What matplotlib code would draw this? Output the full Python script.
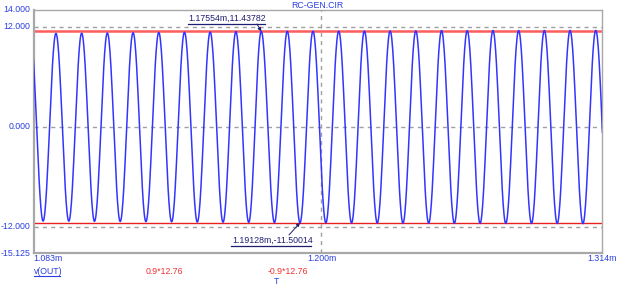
import numpy as np
import matplotlib
matplotlib.use('Agg')
import matplotlib.pyplot as plt
from matplotlib.lines import Line2D

plt.rcParams['font.family'] = ['Liberation Sans', 'DejaVu Sans']

#Waveform v(OUT): times (ms) and values of the peaks and troughs
peak_t = [1.08168, 1.09212, 1.10257, 1.11301, 1.12346, 1.13390, 1.14435, 1.15479,
          1.16524, 1.17554, 1.18613, 1.19657, 1.20702, 1.21746, 1.22791, 1.23835,
          1.24880, 1.25924, 1.26969, 1.28013, 1.29058, 1.30102, 1.31147]
peak_v = [11.20, 11.20, 11.22, 11.25, 11.28, 11.31, 11.34, 11.37,
          11.40, 11.43782, 11.45, 11.46, 11.47, 11.48, 11.49, 11.50,
          11.51, 11.52, 11.53, 11.54, 11.55, 11.55, 11.56]
trough_t = [1.08690, 1.09735, 1.10779, 1.11824, 1.12868, 1.13913, 1.14957, 1.16002,
            1.17046, 1.18091, 1.19128, 1.20180, 1.21224, 1.22269, 1.23313, 1.24358,
            1.25402, 1.26447, 1.27491, 1.28536, 1.29580, 1.30625, 1.31669]
trough_v = [-11.30, -11.31, -11.33, -11.35, -11.37, -11.39, -11.42, -11.44,
            -11.46, -11.48, -11.50014, -11.51, -11.52, -11.53, -11.54, -11.55,
            -11.56, -11.57, -11.58, -11.58, -11.59, -11.60, -11.60]

#Cursor levels and axis ranges
level_hi = 0.9 * 12.76
level_lo = -0.9 * 12.76
x_min, x_max = 1.083, 1.314
y_min, y_max = -15.125, 14.000
y_ticks = [14.000, 12.000, 0.000, -12.000, -15.125]
y_grid = [12.0, 0.0, -12.0]
x_grid = [1.200]
x_ticks = [1.083, 1.200, 1.314]

blue = '#2a3ee0'
navy = '#1e1e70'
red_txt = '#f03030'

#Join extrema with half-cosine swings
ext_t = []
ext_v = []
for i in range(len(peak_t)):
    ext_t += [peak_t[i], trough_t[i]]
    ext_v += [peak_v[i], trough_v[i]]

wave_t = []
wave_v = []
s = np.linspace(0, 1, 30)
for i in range(len(ext_t) - 1):
    t0, t1 = ext_t[i], ext_t[i + 1]
    v0, v1 = ext_v[i], ext_v[i + 1]
    wave_t.extend(t0 + (t1 - t0) * s)
    wave_v.extend((v0 + v1) / 2 + (v0 - v1) / 2 * np.cos(np.pi * s))

fig = plt.figure(figsize=(6.23, 2.89), dpi=100)
ax = fig.add_axes([33.5 / 623, 1 - 253 / 289, 568.5 / 623, 243 / 289])

for y in y_grid:
    ax.axhline(y, color='#a0a0a0', lw=1.0, linestyle=(0, (3, 3)), zorder=1)
for x in x_grid:
    ax.axvline(x, color='#a0a0a0', lw=1.0, linestyle=(0, (3, 3)), zorder=1)

ax.axhline(level_hi, color='#ff5c5c', lw=1.8, zorder=2)
ax.axhline(level_lo, color='#e82020', lw=1.0, zorder=2)

ax.plot(wave_t, wave_v, color='#3434ff', lw=1.1, zorder=3)

ax.set_xlim(x_min, x_max)
ax.set_ylim(y_min, y_max)
ax.set_xticks([])
ax.set_yticks([])

for side in ['left', 'bottom']:
    ax.spines[side].set_color('#a8a8a8')
    ax.spines[side].set_linewidth(1.6)
for side in ['top', 'right']:
    ax.spines[side].set_color('#a8a8a8')
    ax.spines[side].set_linewidth(1.0)

fs = 6.3

#Y tick labels
for y in y_ticks:
    ax.annotate('%.3f' % y, xy=(0, y), xycoords=('axes fraction', 'data'),
                xytext=(-2.2, 0), textcoords='offset points',
                ha='right', va='center', fontsize=fs, color=blue)

#X tick labels
x_align = ['left', 'center', 'center']
for x, al in zip(x_ticks, x_align):
    ax.annotate('%.3fm' % x, xy=(x, 0), xycoords=('data', 'axes fraction'),
                xytext=(0, -4), textcoords='offset points',
                ha=al, va='center', fontsize=fs, color=blue)

fig.text(317.7 / 623, 1 - 5 / 289, 'RC-GEN.CIR', ha='center', va='center',
         fontsize=fs, color=blue)

#Legend row under the plot
fig.text(34 / 623, 1 - 271 / 289, 'v(OUT)', ha='left', va='center',
         fontsize=fs, color=blue)
fig.add_artist(Line2D([34 / 623, 60 / 623], [1 - 275.5 / 289, 1 - 275.5 / 289],
                      color=blue, lw=0.8))
fig.text(164 / 623, 1 - 271 / 289, '0.9*12.76', ha='center', va='center',
         fontsize=fs, color=red_txt)
fig.text(288 / 623, 1 - 271 / 289, '-0.9*12.76', ha='center', va='center',
         fontsize=fs, color=red_txt)
fig.text(277 / 623, 1 - 281 / 289, 'T', ha='center', va='center',
         fontsize=fs, color=blue)

#Cursor readouts
pk_i = 9
tr_i = 10
fig.text(188 / 623, 1 - 18 / 289, '%.5fm,%.5f' % (peak_t[pk_i], peak_v[pk_i]),
         ha='left', va='center', fontsize=fs, color=navy)
fig.add_artist(Line2D([188 / 623, 265 / 623], [1 - 24 / 289, 1 - 24 / 289],
                      color=navy, lw=0.9))
ax.annotate('', xy=(peak_t[pk_i], peak_v[pk_i]), xycoords='data',
            xytext=(257 / 623, 1 - 24 / 289), textcoords='figure fraction',
            arrowprops=dict(arrowstyle='-|>', color=navy, lw=0.7,
                            mutation_scale=5, shrinkA=0, shrinkB=0))

fig.text(232 / 623, 1 - 240 / 289, '%.5fm,%.5f' % (trough_t[tr_i], trough_v[tr_i]),
         ha='left', va='center', fontsize=fs, color=navy)
fig.add_artist(Line2D([231 / 623, 311 / 623], [1 - 246 / 289, 1 - 246 / 289],
                      color=navy, lw=0.9))
ax.annotate('', xy=(trough_t[tr_i], trough_v[tr_i]), xycoords='data',
            xytext=(289 / 623, 1 - 235 / 289), textcoords='figure fraction',
            arrowprops=dict(arrowstyle='-|>', color=navy, lw=0.7,
                            mutation_scale=5, shrinkA=0, shrinkB=0))

fig.savefig('out.png', dpi=100)
